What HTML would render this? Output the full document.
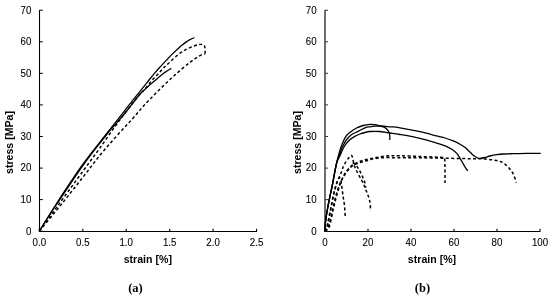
<!DOCTYPE html>
<html><head><meta charset="utf-8"><style>
html,body{margin:0;padding:0;background:#fff;width:550px;height:299px;overflow:hidden}
svg{display:block;will-change:transform}
text{font-family:"Liberation Sans", sans-serif;font-size:9.7px;fill:#000;stroke:#000;stroke-width:0.1px}
text.c{stroke:none}
text.t{font-weight:bold;font-size:10.6px;fill:#000;stroke:none}
text.c{font-family:"Liberation Serif", serif;font-weight:bold;font-size:12.5px;fill:#000}
</style></head><body>
<svg width="550" height="299" viewBox="0 0 550 299">
<line x1="39.5" y1="10" x2="39.5" y2="232.0" stroke="#000" stroke-width="1.1"/>
<line x1="39" y1="231.5" x2="257" y2="231.5" stroke="#000" stroke-width="1.1"/>
<line x1="39.5" y1="231.2" x2="42.8" y2="231.2" stroke="#000" stroke-width="1"/>
<text transform="translate(31.3,234.5) scale(1,1.06)" text-anchor="end">0</text>
<line x1="39.5" y1="199.6" x2="42.8" y2="199.6" stroke="#000" stroke-width="1"/>
<text transform="translate(31.3,202.9) scale(1,1.06)" text-anchor="end">10</text>
<line x1="39.5" y1="168.1" x2="42.8" y2="168.1" stroke="#000" stroke-width="1"/>
<text transform="translate(31.3,171.4) scale(1,1.06)" text-anchor="end">20</text>
<line x1="39.5" y1="136.5" x2="42.8" y2="136.5" stroke="#000" stroke-width="1"/>
<text transform="translate(31.3,139.8) scale(1,1.06)" text-anchor="end">30</text>
<line x1="39.5" y1="104.9" x2="42.8" y2="104.9" stroke="#000" stroke-width="1"/>
<text transform="translate(31.3,108.2) scale(1,1.06)" text-anchor="end">40</text>
<line x1="39.5" y1="73.3" x2="42.8" y2="73.3" stroke="#000" stroke-width="1"/>
<text transform="translate(31.3,76.6) scale(1,1.06)" text-anchor="end">50</text>
<line x1="39.5" y1="41.8" x2="42.8" y2="41.8" stroke="#000" stroke-width="1"/>
<text transform="translate(31.3,45.1) scale(1,1.06)" text-anchor="end">60</text>
<line x1="39.5" y1="10.2" x2="42.8" y2="10.2" stroke="#000" stroke-width="1"/>
<text transform="translate(31.3,13.5) scale(1,1.06)" text-anchor="end">70</text>
<line x1="39.3" y1="231.5" x2="39.3" y2="228.8" stroke="#000" stroke-width="1.1"/>
<text transform="translate(39.3,246.3) scale(1,1.06)" text-anchor="middle">0.0</text>
<line x1="82.8" y1="231.5" x2="82.8" y2="228.8" stroke="#000" stroke-width="1.1"/>
<text transform="translate(82.8,246.3) scale(1,1.06)" text-anchor="middle">0.5</text>
<line x1="126.2" y1="231.5" x2="126.2" y2="228.8" stroke="#000" stroke-width="1.1"/>
<text transform="translate(126.2,246.3) scale(1,1.06)" text-anchor="middle">1.0</text>
<line x1="169.7" y1="231.5" x2="169.7" y2="228.8" stroke="#000" stroke-width="1.1"/>
<text transform="translate(169.7,246.3) scale(1,1.06)" text-anchor="middle">1.5</text>
<line x1="213.1" y1="231.5" x2="213.1" y2="228.8" stroke="#000" stroke-width="1.1"/>
<text transform="translate(213.1,246.3) scale(1,1.06)" text-anchor="middle">2.0</text>
<line x1="256.6" y1="231.5" x2="256.6" y2="228.8" stroke="#000" stroke-width="1.1"/>
<text transform="translate(256.6,246.3) scale(1,1.06)" text-anchor="middle">2.5</text>
<line x1="325.0" y1="10" x2="325.0" y2="231.7" stroke="#4a4a4a" stroke-width="1.6"/>
<line x1="324.5" y1="231.5" x2="540.3" y2="231.5" stroke="#000" stroke-width="1.1"/>
<line x1="325.0" y1="231.2" x2="328.0" y2="231.2" stroke="#333" stroke-width="1"/>
<text transform="translate(316.6,234.5) scale(1,1.06)" text-anchor="end">0</text>
<line x1="325.0" y1="199.6" x2="328.0" y2="199.6" stroke="#333" stroke-width="1"/>
<text transform="translate(316.6,202.9) scale(1,1.06)" text-anchor="end">10</text>
<line x1="325.0" y1="168.1" x2="328.0" y2="168.1" stroke="#333" stroke-width="1"/>
<text transform="translate(316.6,171.4) scale(1,1.06)" text-anchor="end">20</text>
<line x1="325.0" y1="136.5" x2="328.0" y2="136.5" stroke="#333" stroke-width="1"/>
<text transform="translate(316.6,139.8) scale(1,1.06)" text-anchor="end">30</text>
<line x1="325.0" y1="104.9" x2="328.0" y2="104.9" stroke="#333" stroke-width="1"/>
<text transform="translate(316.6,108.2) scale(1,1.06)" text-anchor="end">40</text>
<line x1="325.0" y1="73.3" x2="328.0" y2="73.3" stroke="#333" stroke-width="1"/>
<text transform="translate(316.6,76.6) scale(1,1.06)" text-anchor="end">50</text>
<line x1="325.0" y1="41.8" x2="328.0" y2="41.8" stroke="#333" stroke-width="1"/>
<text transform="translate(316.6,45.1) scale(1,1.06)" text-anchor="end">60</text>
<line x1="325.0" y1="10.2" x2="328.0" y2="10.2" stroke="#333" stroke-width="1"/>
<text transform="translate(316.6,13.5) scale(1,1.06)" text-anchor="end">70</text>
<line x1="325.0" y1="231.5" x2="325.0" y2="228.8" stroke="#000" stroke-width="1.1"/>
<text transform="translate(325.0,246.3) scale(1,1.06)" text-anchor="middle">0</text>
<line x1="368.0" y1="231.5" x2="368.0" y2="228.8" stroke="#000" stroke-width="1.1"/>
<text transform="translate(368.0,246.3) scale(1,1.06)" text-anchor="middle">20</text>
<line x1="411.0" y1="231.5" x2="411.0" y2="228.8" stroke="#000" stroke-width="1.1"/>
<text transform="translate(411.0,246.3) scale(1,1.06)" text-anchor="middle">40</text>
<line x1="454.0" y1="231.5" x2="454.0" y2="228.8" stroke="#000" stroke-width="1.1"/>
<text transform="translate(454.0,246.3) scale(1,1.06)" text-anchor="middle">60</text>
<line x1="497.0" y1="231.5" x2="497.0" y2="228.8" stroke="#000" stroke-width="1.1"/>
<text transform="translate(497.0,246.3) scale(1,1.06)" text-anchor="middle">80</text>
<line x1="540.0" y1="231.5" x2="540.0" y2="228.8" stroke="#000" stroke-width="1.1"/>
<text transform="translate(540.0,246.3) scale(1,1.06)" text-anchor="middle">100</text>
<path d="M39.30,231.20 C42.02,226.83 48.42,216.03 55.60,205.00 C62.78,193.97 74.07,176.67 82.40,165.00 C90.73,153.33 99.03,143.43 105.60,135.00 C112.17,126.57 117.53,119.85 121.80,114.40 C126.07,108.95 128.17,106.15 131.20,102.30 C134.23,98.45 137.33,94.63 140.00,91.30 C142.67,87.97 144.78,85.30 147.20,82.30 C149.62,79.30 152.28,75.92 154.50,73.30 C156.72,70.68 158.47,68.83 160.50,66.60 C162.53,64.37 164.55,62.18 166.70,59.90 C168.85,57.62 171.58,54.70 173.40,52.90 C175.22,51.10 176.25,50.32 177.60,49.10 C178.95,47.88 179.98,46.85 181.50,45.60 C183.02,44.35 185.20,42.63 186.70,41.60 C188.20,40.57 189.22,40.05 190.50,39.40 C191.78,38.75 193.75,37.98 194.40,37.70" fill="none" stroke="#000" stroke-width="1.3" stroke-linejoin="round"/>
<path d="M39.30,231.20 C42.12,226.83 48.88,216.03 56.20,205.00 C63.52,193.97 74.85,176.67 83.20,165.00 C91.55,153.33 101.02,141.67 106.30,135.00 C111.58,128.33 112.25,128.08 114.90,125.00 C117.55,121.92 119.77,119.42 122.20,116.50 C124.63,113.58 127.00,110.67 129.50,107.50 C132.00,104.33 135.15,100.03 137.20,97.50 C139.25,94.97 139.93,94.18 141.80,92.30 C143.67,90.42 146.15,88.20 148.40,86.20 C150.65,84.20 153.18,82.12 155.30,80.30 C157.42,78.48 159.32,76.75 161.10,75.30 C162.88,73.85 164.30,72.75 166.00,71.60 C167.70,70.45 170.42,68.93 171.30,68.40" fill="none" stroke="#000" stroke-width="1.3" stroke-linejoin="round"/>
<path d="M39.30,231.20 C42.62,226.63 51.82,213.95 59.20,203.80 C66.58,193.65 76.75,179.70 83.60,170.30 C90.45,160.90 94.47,155.52 100.30,147.40 C106.13,139.28 112.37,130.03 118.60,121.60 C124.83,113.17 133.32,102.25 137.70,96.80 C142.08,91.35 142.52,91.65 144.90,88.90 C147.28,86.15 149.72,82.88 152.00,80.30 C154.28,77.72 156.52,75.62 158.60,73.40 C160.68,71.18 162.55,68.95 164.50,67.00 C166.45,65.05 167.93,63.85 170.30,61.70 C172.67,59.55 175.97,56.18 178.70,54.10 C181.43,52.02 184.02,50.58 186.70,49.20 C189.38,47.82 192.57,46.60 194.80,45.80 C197.03,45.00 198.67,44.53 200.10,44.40 C201.53,44.27 202.62,44.57 203.40,45.00 C204.18,45.43 204.50,45.38 204.80,47.00 C205.10,48.62 205.13,53.42 205.20,54.70" fill="none" stroke="#000" stroke-width="1.45" stroke-linejoin="round" stroke-dasharray="3,2.4"/>
<path d="M39.30,231.20 C41.92,228.03 49.88,218.48 55.00,212.20 C60.12,205.92 65.03,199.73 70.00,193.50 C74.97,187.27 79.92,181.03 84.80,174.80 C89.68,168.57 94.28,162.25 99.30,156.10 C104.32,149.95 109.62,143.85 114.90,137.90 C120.18,131.95 125.98,125.98 131.00,120.40 C136.02,114.82 140.17,109.62 145.00,104.40 C149.83,99.18 155.00,94.02 160.00,89.10 C165.00,84.18 170.00,79.37 175.00,74.90 C180.00,70.43 185.83,65.52 190.00,62.30 C194.17,59.08 197.53,56.97 200.00,55.60 C202.47,54.23 204.00,54.35 204.80,54.10" fill="none" stroke="#000" stroke-width="1.45" stroke-linejoin="round" stroke-dasharray="3,2.4"/>
<path d="M325.00,231.20 C325.10,229.50 325.22,224.53 325.60,221.00 C325.98,217.47 326.63,213.83 327.30,210.00 C327.97,206.17 328.83,201.77 329.60,198.00 C330.37,194.23 331.28,190.40 331.90,187.40 C332.52,184.40 332.78,182.77 333.30,180.00 C333.82,177.23 334.40,173.80 335.00,170.80 C335.60,167.80 336.37,164.38 336.90,162.00 C337.43,159.62 337.48,159.08 338.20,156.50 C338.92,153.92 340.25,149.25 341.20,146.50 C342.15,143.75 343.02,141.83 343.90,140.00 C344.78,138.17 345.52,136.75 346.50,135.50 C347.48,134.25 348.13,133.75 349.80,132.50 C351.47,131.25 354.28,129.17 356.50,128.00 C358.72,126.83 360.85,126.12 363.10,125.50 C365.35,124.88 368.02,124.43 370.00,124.30 C371.98,124.17 373.33,124.45 375.00,124.70 C376.67,124.95 378.50,125.38 380.00,125.80 C381.50,126.22 382.90,126.67 384.00,127.20 C385.10,127.73 385.83,128.28 386.60,129.00 C387.37,129.72 388.10,130.58 388.60,131.50 C389.10,132.42 389.38,133.08 389.60,134.50 C389.82,135.92 389.85,139.08 389.90,140.00" fill="none" stroke="#000" stroke-width="1.3" stroke-linejoin="round"/>
<path d="M325.00,231.20 C325.10,229.50 325.22,224.53 325.60,221.00 C325.98,217.47 326.63,213.83 327.30,210.00 C327.97,206.17 328.83,201.77 329.60,198.00 C330.37,194.23 331.28,190.40 331.90,187.40 C332.52,184.40 332.78,182.77 333.30,180.00 C333.82,177.23 334.40,173.80 335.00,170.80 C335.60,167.80 336.25,164.38 336.90,162.00 C337.55,159.62 337.93,159.08 338.90,156.50 C339.87,153.92 341.47,149.25 342.70,146.50 C343.93,143.75 344.85,141.97 346.30,140.00 C347.75,138.03 349.43,136.13 351.40,134.70 C353.37,133.27 355.83,132.55 358.10,131.40 C360.37,130.25 363.02,128.57 365.00,127.80 C366.98,127.03 368.33,127.07 370.00,126.80 C371.67,126.53 373.33,126.33 375.00,126.20 C376.67,126.07 378.33,125.98 380.00,126.00 C381.67,126.02 383.33,126.17 385.00,126.30 C386.67,126.43 387.50,126.55 390.00,126.80 C392.50,127.05 395.00,126.98 400.00,127.80 C405.00,128.62 413.88,130.35 420.00,131.70 C426.12,133.05 432.52,134.85 436.70,135.90 C440.88,136.95 442.32,137.17 445.10,138.00 C447.88,138.83 450.90,139.87 453.40,140.90 C455.90,141.93 458.13,143.08 460.10,144.20 C462.07,145.32 463.52,146.25 465.20,147.60 C466.88,148.95 468.68,150.88 470.20,152.30 C471.72,153.72 473.05,155.15 474.30,156.10 C475.55,157.05 476.75,157.62 477.70,158.00 C478.65,158.38 478.78,158.48 480.00,158.40 C481.22,158.32 483.33,157.90 485.00,157.50 C486.67,157.10 488.05,156.47 490.00,156.00 C491.95,155.53 494.47,155.03 496.70,154.70 C498.93,154.37 500.62,154.17 503.40,154.00 C506.18,153.83 509.50,153.80 513.40,153.70 C517.30,153.60 522.25,153.45 526.80,153.40 C531.35,153.35 538.38,153.40 540.70,153.40" fill="none" stroke="#000" stroke-width="1.3" stroke-linejoin="round"/>
<path d="M325.00,231.20 C325.10,229.50 325.22,224.53 325.60,221.00 C325.98,217.47 326.63,213.83 327.30,210.00 C327.97,206.17 328.83,201.77 329.60,198.00 C330.37,194.23 331.28,190.40 331.90,187.40 C332.52,184.40 332.78,182.77 333.30,180.00 C333.82,177.23 334.40,173.80 335.00,170.80 C335.60,167.80 336.13,164.38 336.90,162.00 C337.67,159.62 338.37,159.08 339.60,156.50 C340.83,153.92 342.68,149.20 344.30,146.50 C345.92,143.80 347.55,141.98 349.30,140.30 C351.05,138.62 353.02,137.45 354.80,136.40 C356.58,135.35 358.30,134.65 360.00,134.00 C361.70,133.35 363.33,132.92 365.00,132.50 C366.67,132.08 368.33,131.70 370.00,131.50 C371.67,131.30 373.33,131.30 375.00,131.30 C376.67,131.30 378.33,131.35 380.00,131.50 C381.67,131.65 383.33,131.95 385.00,132.20 C386.67,132.45 387.50,132.62 390.00,133.00 C392.50,133.38 395.00,133.60 400.00,134.50 C405.00,135.40 413.88,136.97 420.00,138.40 C426.12,139.83 432.52,141.85 436.70,143.10 C440.88,144.35 442.58,144.88 445.10,145.90 C447.62,146.92 449.85,147.95 451.80,149.20 C453.75,150.45 455.42,151.87 456.80,153.40 C458.18,154.93 458.98,156.58 460.10,158.40 C461.22,160.22 462.52,162.62 463.50,164.30 C464.48,165.98 465.30,167.38 466.00,168.50 C466.70,169.62 467.42,170.58 467.70,171.00" fill="none" stroke="#000" stroke-width="1.3" stroke-linejoin="round"/>
<path d="M325.00,231.20 C325.33,230.47 326.10,230.28 327.00,226.80 C327.90,223.32 329.32,215.60 330.40,210.30 C331.48,205.00 332.50,199.38 333.50,195.00 C334.50,190.62 335.55,186.75 336.40,184.00 C337.25,181.25 338.03,179.53 338.60,178.50 C339.17,177.47 339.40,177.38 339.80,177.80 C340.20,178.22 340.63,179.30 341.00,181.00 C341.37,182.70 341.63,185.33 342.00,188.00 C342.37,190.67 342.80,194.17 343.20,197.00 C343.60,199.83 344.05,201.67 344.40,205.00 C344.75,208.33 345.15,215.00 345.30,217.00" fill="none" stroke="#000" stroke-width="1.5" stroke-linejoin="round" stroke-dasharray="3,2.4"/>
<path d="M325.00,231.20 C325.33,230.47 326.10,230.28 327.00,226.80 C327.90,223.32 329.32,215.60 330.40,210.30 C331.48,205.00 332.48,199.38 333.50,195.00 C334.52,190.62 335.53,187.00 336.50,184.00 C337.47,181.00 338.43,179.08 339.30,177.00 C340.17,174.92 341.00,173.33 341.70,171.50 C342.40,169.67 342.70,167.75 343.50,166.00 C344.30,164.25 345.52,162.50 346.50,161.00 C347.48,159.50 348.57,157.92 349.40,157.00 C350.23,156.08 350.93,155.25 351.50,155.50 C352.07,155.75 352.38,157.00 352.80,158.50 C353.22,160.00 353.47,162.67 354.00,164.50 C354.53,166.33 355.25,167.83 356.00,169.50 C356.75,171.17 357.58,172.75 358.50,174.50 C359.42,176.25 360.62,178.33 361.50,180.00 C362.38,181.67 363.13,183.00 363.80,184.50 C364.47,186.00 364.88,187.42 365.50,189.00 C366.12,190.58 366.88,192.33 367.50,194.00 C368.12,195.67 368.75,197.33 369.20,199.00 C369.65,200.67 369.97,202.05 370.20,204.00 C370.43,205.95 370.53,209.58 370.60,210.70" fill="none" stroke="#000" stroke-width="1.5" stroke-linejoin="round" stroke-dasharray="3,2.4"/>
<path d="M352.80,162.50 C353.38,163.00 355.18,164.17 356.30,165.50 C357.42,166.83 358.47,168.67 359.50,170.50 C360.53,172.33 361.62,174.50 362.50,176.50 C363.38,178.50 364.25,180.67 364.80,182.50 C365.35,184.33 365.63,186.67 365.80,187.50" fill="none" stroke="#000" stroke-width="1.5" stroke-linejoin="round" stroke-dasharray="3,2.4"/>
<path d="M325.00,231.20 C325.55,230.45 327.13,229.90 328.30,226.70 C329.47,223.50 330.78,216.95 332.00,212.00 C333.22,207.05 334.40,201.42 335.60,197.00 C336.80,192.58 338.08,188.58 339.20,185.50 C340.32,182.42 341.23,180.67 342.30,178.50 C343.37,176.33 344.02,174.67 345.60,172.50 C347.18,170.33 349.73,167.20 351.80,165.50 C353.87,163.80 355.77,163.27 358.00,162.30 C360.23,161.33 360.70,160.72 365.20,159.70 C369.70,158.68 379.20,156.85 385.00,156.20 C390.80,155.55 394.17,155.75 400.00,155.80 C405.83,155.85 413.33,156.25 420.00,156.50 C426.67,156.75 436.08,157.05 440.00,157.30 C443.92,157.55 442.70,157.47 443.50,158.00 C444.30,158.53 444.55,156.33 444.80,160.50 C445.05,164.67 444.97,179.25 445.00,183.00" fill="none" stroke="#000" stroke-width="1.5" stroke-linejoin="round" stroke-dasharray="3,2.4"/>
<path d="M325.00,231.20 C325.72,230.45 327.97,230.18 329.30,226.70 C330.63,223.22 331.83,215.25 333.00,210.30 C334.17,205.35 335.13,201.30 336.30,197.00 C337.47,192.70 338.83,187.78 340.00,184.50 C341.17,181.22 341.93,179.72 343.30,177.30 C344.67,174.88 346.57,171.97 348.20,170.00 C349.83,168.03 350.72,166.87 353.10,165.50 C355.48,164.13 358.25,163.05 362.50,161.80 C366.75,160.55 372.35,158.68 378.60,158.00 C384.85,157.32 393.10,157.73 400.00,157.70 C406.90,157.67 412.67,157.72 420.00,157.80 C427.33,157.88 435.67,158.05 444.00,158.20 C452.33,158.35 464.00,158.62 470.00,158.70 C476.00,158.78 477.22,158.62 480.00,158.70 C482.78,158.78 484.47,158.98 486.70,159.20 C488.93,159.42 491.18,159.63 493.40,160.00 C495.62,160.37 498.07,160.70 500.00,161.40 C501.93,162.10 503.33,162.90 505.00,164.20 C506.67,165.50 508.60,167.53 510.00,169.20 C511.40,170.87 512.42,172.25 513.40,174.20 C514.38,176.15 515.43,179.50 515.90,180.90 C516.37,182.30 516.15,182.32 516.20,182.60" fill="none" stroke="#000" stroke-width="1.5" stroke-linejoin="round" stroke-dasharray="3,2.4"/>
<text class="t" x="147.8" y="262.7" text-anchor="middle">strain [%]</text>
<text class="t" x="432.0" y="262.7" text-anchor="middle">strain [%]</text>
<text class="t" transform="translate(13.4,142.5) rotate(-90)" text-anchor="middle">stress [MPa]</text>
<text class="t" transform="translate(300.8,142.5) rotate(-90)" text-anchor="middle">stress [MPa]</text>
<text class="c" x="135.5" y="292" text-anchor="middle">(a)</text>
<text class="c" x="422.5" y="292" text-anchor="middle">(b)</text>
</svg>
</body></html>
